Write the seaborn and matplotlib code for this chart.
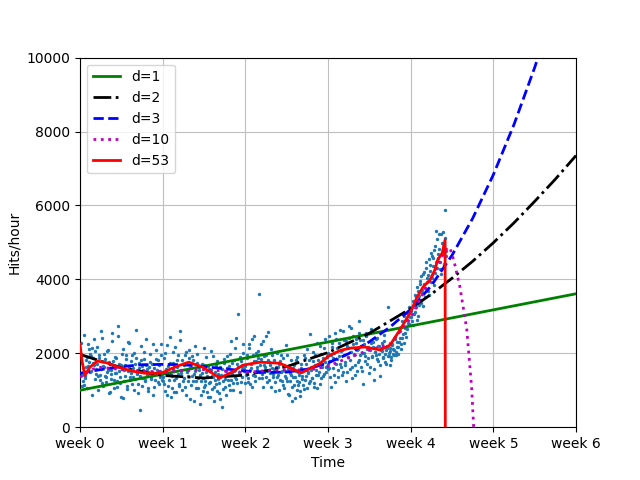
import numpy as np
import matplotlib
matplotlib.use("Agg")
import matplotlib.pyplot as plt
import seaborn as sns

# ---- scattered hourly hits, per week (even hours / odd hours) ----
hits_w0 = [2010, 1850, 1420, 1260, 1150, 1380, 1620, 1900, 2240, 1760, 1980, 1530, 2150, 1870, 1690, 2050,
           1440, 1720, 1390, 1960, 1280, 1580, 2420, 1110, 1640, 1850, 1350, 1490, 2080, 930, 1700, 1560,
           1300, 2560, 1780, 1060, 1460, 1880, 1250, 2750, 1520, 1190, 1670, 1980, 790, 1540, 1390, 1840,
           1110, 2310, 1630, 1270, 1470, 1950, 1360, 1020, 1720, 2630, 1450, 1180, 1590, 460, 1820, 1330,
           1560, 2040, 1240, 1690, 1410, 980, 1620, 1770, 1300, 1500, 2250, 1080, 1430, 1850, 1550, 1210,
           1680, 1370, 1940, 1290]
hits_w0_odd = [1730, 2280, 1120, 1590, 2490, 1340, 1810, 1050, 1660, 2120, 1480, 1920, 880, 1750, 2390, 1310,
               1570, 2180, 1020, 1860, 1420, 2600, 1190, 1650, 1980, 1380, 1230, 2070, 1550, 1760, 960, 1430,
               2330, 1620, 1280, 1900, 1470, 1100, 2470, 1710, 1350, 830, 1580, 2120, 1260, 1690, 1940, 1030,
               1510, 2280, 1370, 1780, 1160, 1600, 2010, 1310, 1870, 1480, 920, 1740, 1390, 2210, 1120, 1660,
               1520, 1850, 1290, 2380, 1580, 1050, 1470, 1990, 1350, 1720, 870, 1600, 1280, 2100, 1440, 1810,
               1170, 1530, 2260, 1390]
hits_w1 = [1360, 1180, 2010, 1540, 870, 1650, 1290, 2450, 1420, 1050, 1730, 1580, 940, 2180, 1330, 1620,
           1960, 1180, 2590, 1470, 1810, 1250, 1690, 1100, 2040, 1520, 1380, 1880, 760, 1610, 1930, 1240,
           1450, 2200, 1070, 1750, 1330, 1540, 620, 1260, 1470, 980, 1680, 1150, 1890, 1390, 830, 1570,
           1220, 2060, 1040, 1350, 700, 1480, 1160, 1790, 1300, 920, 1620, 1410, 560, 1250, 1730, 1090,
           1520, 1930, 1270, 1650, 1000, 2330, 1440, 1190, 1820, 1560, 2150, 1310, 1700, 3050, 1480, 1890,
           1220, 1640, 2010, 1530]
hits_w1_odd = [1250, 1880, 990, 1580, 2220, 1120, 1460, 1730, 810, 1390, 2030, 1270, 1650, 940, 1810, 1430,
               1120, 2350, 1560, 1010, 1720, 1340, 1940, 860, 1480, 1260, 2090, 1590, 1150, 1380, 1830, 720,
               1510, 1240, 1970, 1060, 1620, 1420, 880, 1700, 1330, 1090, 2140, 1250, 1480, 960, 1660, 1200,
               810, 1550, 1380, 1920, 1100, 1290, 1680, 980, 1450, 1200, 760, 1390, 1570, 1040, 1850, 1310,
               870, 1610, 1440, 1130, 1980, 1280, 1750, 1010, 1520, 1360, 2420, 1190, 1630, 1470, 940, 1780,
               1350, 2260, 1580, 1190]
hits_w2 = [1650, 1420, 1870, 1230, 2240, 1560, 1710, 1080, 1960, 2480, 1380, 1790, 1620, 2050, 3610, 1490,
           1850, 1320, 2330, 1680, 1540, 1940, 1210, 2580, 1760, 1460, 2120, 1590, 1360, 1830, 970, 1640,
           2010, 1420, 1720, 1280, 1960, 1530, 1150, 1690, 1380, 2230, 1240, 1580, 870, 1460, 1810, 1090,
           1350, 1670, 780, 1510, 1260, 1900, 1130, 1420, 990, 1720, 1300, 1550, 1040, 1860, 1380, 2120,
           1470, 1190, 2510, 1640, 1330, 1780, 1090, 1950, 1560, 2280, 1410, 1700, 1180, 1980, 1620, 1380,
           2150, 1760, 1500, 1890]
hits_w2_odd = [1480, 1950, 1320, 2130, 1170, 1610, 2390, 1400, 1780, 1260, 2010, 1540, 1880, 1330, 1690, 2250,
               1450, 1080, 1920, 1620, 1370, 2460, 1510, 1830, 1290, 1680, 1100, 1960, 1430, 1570, 1220, 2040,
               1350, 1640, 1000, 1780, 1480, 1250, 1870, 1060, 1520, 1330, 1960, 900, 1640, 1250, 1420, 720,
               1590, 1150, 1370, 1830, 1020, 1480, 1230, 850, 1610, 1390, 1140, 1950, 1270, 1700, 1060, 1490,
               1830, 1240, 1560, 1330, 2040, 1200, 1680, 1420, 1060, 1830, 1500, 2200, 1340, 1700, 1880, 1450,
               2390, 1640, 1920, 1580]
hits_w3 = [2020, 1590, 1780, 1080, 2290, 1860, 1420, 2560, 1700, 2150, 1350, 1930, 2640, 1620, 2080, 1480,
           2370, 1760, 1240, 2210, 1890, 2730, 1570, 2040, 1330, 2460, 1950, 1690, 2280, 1510, 2120, 2870,
           1810, 2360, 1640, 2010, 1180, 2250, 1930, 2540, 1720, 2170, 1460, 2080, 2660, 1890, 2310, 1570,
           2030, 1950, 2420, 1780, 2190, 1380, 2090, 2270, 1860, 2500, 1990, 1700, 2150, 3250, 1920, 2060,
           1810, 2230, 2110, 1940, 2380, 2040, 2170, 1980, 2300, 2590, 2110, 2420, 2740, 2280, 2560, 2900,
           2650, 3070, 2780, 3150]
hits_w3_odd = [1720, 2480, 1370, 1940, 2180, 1600, 2020, 1230, 2390, 1840, 1560, 2270, 1710, 2050, 1420, 2590,
               1960, 1680, 2330, 1490, 2150, 2400, 1820, 2690, 1640, 2250, 1970, 1420, 2380, 2080, 1760, 2540,
               1950, 2190, 1510, 2360, 2010, 1790, 2470, 2120, 1860, 2560, 1640, 2290, 1920, 2170, 1270, 2040,
               2380, 1850, 2210, 1990, 1680, 2140, 2050, 1900, 2330, 1760, 2080, 2190, 1930, 2020, 1680, 2150,
               1890, 2260, 1990, 2100, 2440, 1950, 2300, 2160, 2680, 2420, 2250, 2870, 2530, 3010, 2680, 2450,
               3080, 2830, 3240, 2990]
hits_w4 = [2980, 3240, 2760, 3360, 3110, 3520, 2890, 3680, 3300, 3870, 3450, 4080, 3620, 3290, 4210, 3760,
           4460, 3940, 4130, 3580, 4390, 4720, 4050, 4570, 3860, 4890, 5300, 4310, 4680, 5230, 4480, 4150,
           4990, 5270, 4420, 5880, 4640]
hits_w4_odd = [3140, 2880, 3420, 3060, 3580, 3260, 3790, 3010, 3540, 3950, 3370, 3720, 4140, 3880, 3510, 4320,
               4040, 3690, 4540, 4230, 3920, 4620, 4350, 4790, 4180, 4470, 5090, 4570, 4830, 4290, 5240, 4710,
               4950, 4380, 5120, 4760]

# ---- fitted curves (hours, hits) ----
d1_x = [0, 1008]
d1_y = [1000, 3610]

d2_w = [0, 0.5, 1, 1.5, 2, 2.5, 3, 3.5, 4, 4.25, 4.5, 4.75, 5, 5.25, 5.5, 5.75, 6]
d2_y = [1970, 1610, 1400, 1330, 1410, 1640, 2020, 2540, 3210, 3600, 4030, 4490, 4990, 5530, 6110, 6710, 7350]

d3_w = [0, 0.25, 0.5, 0.75, 1, 1.25, 1.5, 1.75, 2, 2.25, 2.5, 2.75, 3, 3.25, 3.5, 3.75, 4, 4.25,
        4.5, 4.75, 5, 5.25, 5.5, 5.75, 6]
d3_y = [1460, 1560, 1640, 1690, 1700, 1690, 1640, 1580, 1520, 1480, 1490, 1570, 1740, 1990, 2310, 2710,
        3190, 3830, 4650, 5650, 6830, 8190, 9730, 11450, 13350]

d10_x = [0, 20, 42, 84, 126, 168, 210, 252, 294, 336, 378, 420, 462, 504, 546, 588, 630, 672, 700, 720,
         735, 746, 752, 760, 772, 786, 796, 800, 805]
d10_y = [1350, 1550, 1620, 1560, 1510, 1500, 1530, 1560, 1520, 1480, 1530, 1560, 1540, 1650, 1880, 2090,
         2250, 2950, 3700, 4200, 4600, 4850, 4850, 4500, 3800, 2650, 1050, 0, -3000]

d53_x = [0, 4, 10, 20, 35, 55, 77, 105, 132, 165, 195, 221, 250, 284, 310, 331, 366, 406, 450, 488, 508,
         530, 549, 579, 610, 630, 650, 671, 685, 697, 711, 721, 727, 736, 742, 744]
d53_y = [2250, 1800, 1400, 1620, 1790, 1740, 1630, 1520, 1460, 1460, 1640, 1760, 1620, 1330, 1500, 1680,
         1760, 1730, 1470, 1730, 1950, 2080, 2140, 2170, 2090, 2220, 2630, 3090, 3520, 3790, 3980, 4250,
         4530, 4710, 5070, -20000]

week_labels = ["week %i" % w for w in range(7)]

# ---- build ----
weeks = [(hits_w0, hits_w0_odd), (hits_w1, hits_w1_odd), (hits_w2, hits_w2_odd),
         (hits_w3, hits_w3_odd), (hits_w4, hits_w4_odd)]
hx, hy = [], []
for i, (ev, od) in enumerate(weeks):
    for j, v in enumerate(ev):
        hx.append(168 * i + 2 * j)
        hy.append(v)
    for j, v in enumerate(od):
        hx.append(168 * i + 2 * j + 1)
        hy.append(v)

fig, ax = plt.subplots(figsize=(6.4, 4.8), dpi=100)
sns.scatterplot(x=hx, y=hy, s=6, color="#1f77b4", linewidth=0, ax=ax, zorder=2)

curves = [
    (d1_x, d1_y, "g", "-", "d=1"),
    ([w * 168 for w in d2_w], d2_y, "k", "-.", "d=2"),
    ([w * 168 for w in d3_w], d3_y, "b", "--", "d=3"),
    (d10_x, d10_y, "m", ":", "d=10"),
    (d53_x, d53_y, "r", "-", "d=53"),
]
for cx, cy, col, ls, lab in curves:
    sns.lineplot(x=cx, y=cy, color=col, linestyle=ls, linewidth=2, label=lab,
                 sort=False, estimator=None, ax=ax, zorder=3)

ax.set_xlim(0, 6 * 168)
ax.set_ylim(0, 10000)
ax.set_xticks([w * 168 for w in range(7)])
ax.set_xticklabels(week_labels)
ax.set_xlabel("Time")
ax.set_ylabel("Hits/hour")
ax.grid(True, linestyle="-", color="0.75")
ax.set_axisbelow(True)
ax.legend(loc="upper left")
fig.subplots_adjust(left=0.125, right=0.9, bottom=0.11, top=0.88)
fig.savefig("out.png", dpi=100)
